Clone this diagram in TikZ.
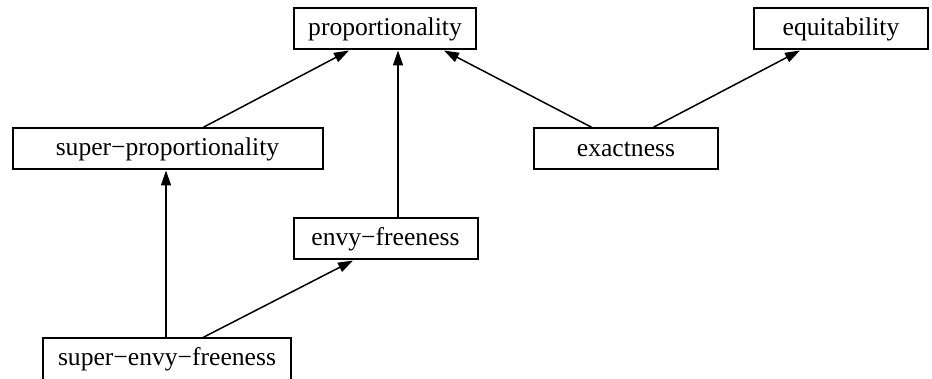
\documentclass[tikz,border=0pt]{standalone}
\usepackage{fontspec}
\setmainfont{Liberation Serif}
\usetikzlibrary{arrows.meta}

\tikzset{
  box/.style={draw, line width=1pt, rectangle, minimum height=20.5pt, inner sep=0pt,
    font=\fontsize{12.8}{15}\selectfont},
  edge/.style={line width=0.75pt, -{Triangle[length=7.5pt,width=5pt]}}
}

\begin{document}
\begin{tikzpicture}[x=0.5pt,y=-0.5pt]

\useasboundingbox (0,0) rectangle (932,379);

% Properties
\node[box, minimum width=91pt] (prop) at (385,29) {proportionality};
\node[box, minimum width=87pt] (equit) at (841,29) {equitability};
\node[box, minimum width=155pt] (superprop) at (167.5,149) {super−proportionality};
\node[box, minimum width=92pt] (exact) at (626,149) {exactness};
\node[box, minimum width=92pt] (envy) at (385.5,239) {envy−freeness};
\node[box, minimum width=124pt] (superenvy) at (167,359) {super−envy−freeness};

% Implications
\draw[edge] ([xshift=17.75pt]superprop.north) -- ([xshift=-18pt]prop.south);
\draw[edge] ([xshift=6.25pt]envy.north) -- ([xshift=6.5pt]prop.south);
\draw[edge] ([xshift=-17pt]exact.north) -- ([xshift=29.5pt]prop.south);
\draw[edge] ([xshift=13.5pt]exact.north) -- ([xshift=-20.5pt]equit.south);
\draw[edge] ([xshift=-0.5pt]superenvy.north) -- ([xshift=-0.75pt]superprop.south);
\draw[edge] ([xshift=18pt]superenvy.north) -- ([xshift=-16.25pt]envy.south);

\end{tikzpicture}
\end{document}
